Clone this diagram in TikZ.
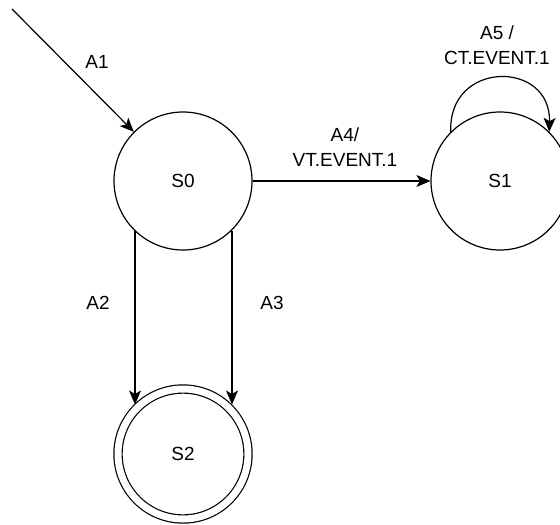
\documentclass[tikz,border=0pt]{standalone}
\usepackage{fontspec}
\setmainfont{Liberation Sans}
\usetikzlibrary{arrows.meta}
\begin{document}
\begin{tikzpicture}[x=1pt,y=-1pt,
  every node/.style={font=\fontsize{19}{25}\selectfont},
  state/.style={draw,circle,line width=1.2pt,minimum size=138pt,inner sep=0pt},
  accept/.style={state,double,double distance=7pt,minimum size=130pt},
  edge/.style={line width=1.2pt,-{Stealth[length=14pt,width=12pt,inset=3.5pt]}},
  lbl/.style={align=center,inner sep=0pt}]
  \useasboundingbox (0,0) rectangle (560,525);

  % states
  \node[state]  (s0) at (183,181) {S0};
  \node[state]  (s1) at (500,181) {S1};
  \node[accept] (s2) at (183,454) {S2};

  % entry transition
  \coordinate (start) at (12,9);
  \draw[edge] (start) -- (s0.135);
  \node[lbl] (a1) at (97,62) {A1};

  % S0 -> S1
  \draw[edge] (s0.east) -- (s1.west);
  \node[lbl] (a4) at (345,147) {A4/\\VT.EVENT.1};

  % S0 -> S2, two parallel transitions
  \coordinate (l0) at (135,230.6);
  \coordinate (l1) at (135,404.5);
  \coordinate (r0) at (232,230.6);
  \coordinate (r1) at (232,404.5);
  \draw[edge] (l0) -- (l1);
  \draw[edge] (r0) -- (r1);
  \node[lbl] (a2) at (98,303) {A2};
  \node[lbl] (a3) at (272,303) {A3};

  % self loop on S1
  \draw[edge] (s1.135) .. controls +(-3,-72) and +(2,-72) .. (s1.45);
  \node[lbl] (a5) at (497,45) {A5 /\\CT.EVENT.1};
\end{tikzpicture}
\end{document}
